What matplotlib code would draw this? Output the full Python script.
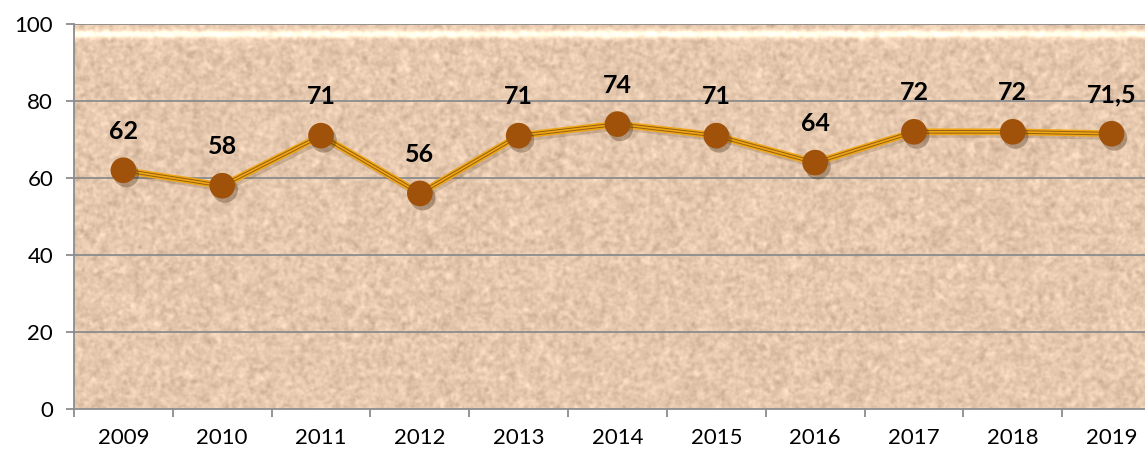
import matplotlib.pyplot as plt
import matplotlib.patheffects as pe
import numpy as np

plt.rcParams['font.family'] = ['Lato', 'DejaVu Sans']

## Données
annees = ['2009', '2010', '2011', '2012', '2013', '2014', '2015', '2016', '2017', '2018', '2019']
valeurs = [62, 58, 71, 56, 71, 74, 71, 64, 72, 72, 71.5]
etiquettes = ['62', '58', '71', '56', '71', '74', '71', '64', '72', '72', '71,5']

fig = plt.figure(figsize=(11.45, 4.54), dpi=100)
# la zone de tracé déborde à droite, comme sur l'original
ax = fig.add_axes([74/1145, 1-409/454, 1087/1145, 385/454])

x = np.arange(len(annees))
ax.set_xlim(-0.5, len(annees)-0.5)
ax.set_ylim(0, 100)

# fond texturé façon papier sablé (décor seulement)
rng = np.random.default_rng(3)
h, w = 390, 1090
def flou(a, n):
    for _ in range(n):
        a = (a + np.roll(a, 1, 0) + np.roll(a, -1, 0) + np.roll(a, 1, 1) + np.roll(a, -1, 1))/5
    return a
b1 = flou(rng.random((h, w)), 2)
b2 = flou(rng.random((h, w)), 7)
bruit = 0.5*(b1-b1.mean())/b1.std() + 0.75*(b2-b2.mean())/b2.std()
base = np.array([229, 200, 173])/255
tex = base[None, None, :] + bruit[:, :, None]*np.array([0.036, 0.036, 0.034])
# reflet clair en haut
yy = np.linspace(0, 1, h)[:, None, None]
tex = tex + 0.28*np.exp(-((yy-0.025)/0.01)**2)
tex = np.clip(tex, 0, 1)
ax.imshow(tex, extent=(-0.5, len(annees)-0.5, 0, 100), aspect='auto',
          interpolation='bilinear', zorder=0)

# grille
for v in range(20, 101, 20):
    ax.axhline(v, color='#8c8c8c', lw=1.3, zorder=1)

# ligne composée (or / brun)
ombre = [pe.SimpleLineShadow(offset=(2, -2), alpha=0.2, shadow_color='#5a3a1a'), pe.Normal()]
ax.plot(x, valeurs, color='#EFA516', lw=4.8, zorder=2, path_effects=ombre, solid_joinstyle='round')
ax.plot(x, valeurs, color='#946010', lw=2.6, zorder=3, solid_joinstyle='round')
ax.plot(x, valeurs, color='#EFA516', lw=1.2, zorder=4, solid_joinstyle='round')
ax.plot(x, valeurs, 'o', ms=18.5, color='#A0520A', markeredgewidth=0, zorder=5,
        path_effects=[pe.SimplePatchShadow(offset=(2, -3), alpha=0.3), pe.Normal()])

for i in range(len(annees)):
    ax.annotate(etiquettes[i], (x[i], valeurs[i]), xytext=(0, 28), textcoords='offset points',
                ha='center', va='center', fontsize=18, fontweight='bold', color='black', zorder=6)

ax.set_yticks(range(0, 101, 20))
ax.set_xticks(x)
ax.set_xticklabels(annees)
ax.set_xticks(np.arange(-0.5, len(annees)), minor=True)
ax.tick_params(axis='x', which='major', length=0, labelsize=16, pad=14)
ax.tick_params(axis='x', which='minor', length=6, color='#8c8c8c', width=1.3)
ax.tick_params(axis='y', length=6, color='#8c8c8c', width=1.3, labelsize=16, pad=9)

for s in ['top', 'right']:
    ax.spines[s].set_visible(False)
ax.spines['left'].set_color('#8c8c8c')
ax.spines['bottom'].set_color('#8c8c8c')
ax.spines['left'].set_linewidth(1.3)
ax.spines['bottom'].set_linewidth(1.3)

plt.savefig('out.png', dpi=100)
